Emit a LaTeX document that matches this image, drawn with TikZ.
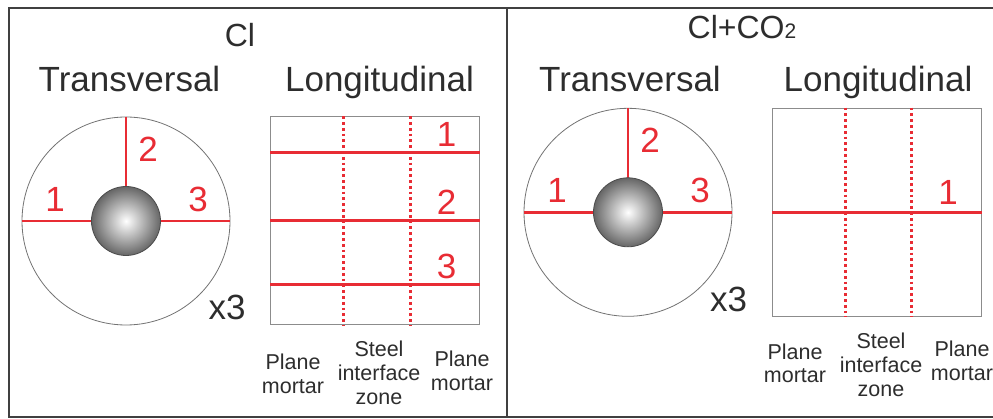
\documentclass[tikz,border=0pt]{standalone}
\usepackage{fontspec}
\setmainfont{Liberation Sans}
\definecolor{cutred}{RGB}{232,44,52}
\definecolor{inkgray}{RGB}{45,45,45}

\begin{document}
\begin{tikzpicture}[
  x=1pt,y=-1pt,
  every node/.style={text=inkgray,inner sep=0pt},
  title/.style={font=\fontsize{35}{40}\selectfont,anchor=base},
  head/.style={font=\fontsize{32}{38}\selectfont,anchor=base},
  num/.style={font=\fontsize{35}{40}\selectfont,text=cutred,anchor=base},
  zone/.style={font=\fontsize{21.5}{24}\selectfont,align=center,anchor=base},
  frame/.style={draw=black!75,line width=1.3pt},
  cut/.style={cutred,line width=2.8pt},
  seam/.style={cutred,line width=3pt,dash pattern=on 2.8pt off 3pt},
  ring/.style={circle,draw=black!55,line width=0.8pt,minimum size=208pt},
  bar/.style={circle,draw=black!70,line width=0.8pt,inner color=white,outer color=black!60,minimum size=69pt},
  slab/.style={draw=black!45,line width=1pt,minimum width=208.5pt,minimum height=208pt}
]
  \useasboundingbox (0,0) rectangle (993,419);
  \draw[frame] (9,8) rectangle (1010,417);
  \draw[frame] (507,8) -- (507,417);

  % Cl
  \node[head] (clA) at (240,47) {Cl};
  \node[title] (transA) at (129.5,92) {Transversal};
  \node[title] (longA) at (379.5,92) {Longitudinal};
  \node[ring] (ringA) at (126,221) {};
  \draw[cut] (ringA.west) -- (ringA.east);
  \draw[cut] (ringA.north) -- (ringA.center);
  \node[bar] (barA) at (ringA.center) {};
  \node[num] (nA1) at (55,212) {1};
  \node[num] (nA2) at (148,162) {2};
  \node[num] (nA3) at (198,212) {3};
  \node[title] (xA) at (227,320) {x3};
  \node[slab] (slabA) at (375,220.8) {};
  \foreach \x in {343.3,410}
    \draw[seam] (\x,0 |- slabA.north) -- (\x,0 |- slabA.south);
  \foreach \y/\n in {152.7/1,220.7/2,284.3/3} {
    \draw[cut] (slabA.west |- 0,\y) -- (slabA.east |- 0,\y);
    \node[num] (lA\n) at (446.7,\y-6) {\n};
  }
  \node[zone] (pA1) at (293,393) {Plane\\mortar};
  \node[zone] (sA) at (379,404) {Steel\\interface\\zone};
  \node[zone] (pA2) at (462,390) {Plane\\mortar};

  % Cl+CO2
  \node[head] (clB) at (742,39) {Cl+CO{\fontsize{21}{24}\selectfont 2}};
  \node[title] (transB) at (630,92) {Transversal};
  \node[title] (longB) at (878,92) {Longitudinal};
  \node[ring] (ringB) at (628,212.3) {};
  \draw[cut] (ringB.west) -- (ringB.east);
  \draw[cut] (ringB.north) -- (ringB.center);
  \node[bar] (barB) at (ringB.center) {};
  \node[num] (nB1) at (557,203) {1};
  \node[num] (nB2) at (650,153) {2};
  \node[num] (nB3) at (700,203) {3};
  \node[title] (xB) at (728.5,312) {x3};
  \node[slab] (slabB) at (876.9,212.2) {};
  \foreach \x in {845,911.7}
    \draw[seam] (\x,0 |- slabB.north) -- (\x,0 |- slabB.south);
  \draw[cut] (slabB.west) -- (slabB.east);
  \node[num] (lB1) at (948,205) {1};
  \node[zone] (pB1) at (795,383) {Plane\\mortar};
  \node[zone] (sB) at (881,396) {Steel\\interface\\zone};
  \node[zone] (pB2) at (962,381) {Plane\\mortar};
\end{tikzpicture}
\end{document}
